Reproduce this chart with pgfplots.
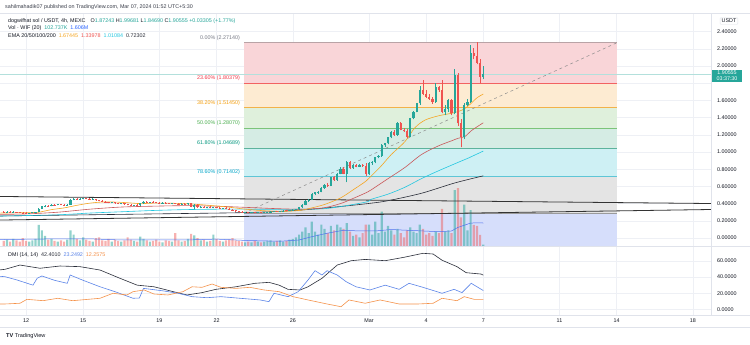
\documentclass[border=0pt]{standalone}
\usepackage{pgfplots}
\pgfplotsset{compat=1.18}
\usepackage{pgfplotstable}
\usepackage{fontspec}
\setmainfont{Liberation Sans}
\definecolor{upc}{HTML}{26A69A}
\definecolor{dnc}{HTML}{EF5350}
\definecolor{txtc}{HTML}{131722}
\definecolor{hdrc}{HTML}{3A3E4A}
\definecolor{gridc}{HTML}{EEF0F5}
\definecolor{bordc}{HTML}{E0E3EB}
\definecolor{fibA}{HTML}{F9D5D8}
\definecolor{fibB}{HTML}{FDEBD2}
\definecolor{fibC}{HTML}{DFF0DC}
\definecolor{fibD}{HTML}{D5ECE4}
\definecolor{fibE}{HTML}{CEF0F4}
\definecolor{fibF}{HTML}{E4E4E4}
\definecolor{fibG}{HTML}{D6DEFB}
\definecolor{lnA}{HTML}{B9A3A6}
\definecolor{lnB}{HTML}{F26262}
\definecolor{lnC}{HTML}{F2B24A}
\definecolor{lnD}{HTML}{7CC47A}
\definecolor{lnE}{HTML}{5DB39C}
\definecolor{lnF}{HTML}{5EC6D6}
\definecolor{lnG}{HTML}{9A9A9A}
\definecolor{labA}{HTML}{787B86}
\definecolor{labB}{HTML}{F23645}
\definecolor{labC}{HTML}{F59E0B}
\definecolor{labD}{HTML}{4CAF50}
\definecolor{labE}{HTML}{089981}
\definecolor{labF}{HTML}{00A5C8}
\definecolor{emaA}{HTML}{F5A623}
\definecolor{emaB}{HTML}{C8585A}
\definecolor{emaC}{HTML}{22C7E0}
\definecolor{emaD}{HTML}{2A2E39}
\definecolor{volma}{HTML}{4F72EE}
\definecolor{volt}{HTML}{2962FF}
\definecolor{adxc}{HTML}{2A2E39}
\definecolor{pdic}{HTML}{5B84E8}
\definecolor{mdic}{HTML}{F5924A}
\newcommand{\tvf}{\fontsize{5.4}{6.2}\selectfont}

\pgfplotstableread{
i o h l c v
-7 0.305 0.312 0.298 0.300 0.35
-6 0.300 0.310 0.296 0.306 0.45
-5 0.306 0.312 0.300 0.302 0.30
-4 0.302 0.309 0.297 0.304 0.50
-3 0.304 0.308 0.294 0.297 0.40
-2 0.297 0.303 0.290 0.293 0.30
-1 0.293 0.300 0.287 0.290 0.55
0 0.290 0.297 0.284 0.287 0.35
1 0.287 0.296 0.283 0.293 0.30
2 0.293 0.300 0.288 0.296 0.40
3 0.296 0.304 0.292 0.301 0.50
4 0.301 0.345 0.299 0.340 1.47
5 0.340 0.372 0.335 0.368 1.10
6 0.368 0.385 0.360 0.376 0.70
7 0.376 0.388 0.368 0.372 0.45
8 0.372 0.392 0.369 0.388 0.50
9 0.388 0.396 0.380 0.384 0.35
10 0.384 0.397 0.378 0.392 0.30
11 0.392 0.398 0.382 0.386 0.40
12 0.386 0.392 0.376 0.380 0.30
13 0.380 0.390 0.374 0.388 0.45
14 0.388 0.450 0.385 0.445 1.10
15 0.445 0.462 0.438 0.455 0.80
16 0.455 0.466 0.446 0.452 0.50
17 0.452 0.460 0.444 0.456 0.40
18 0.456 0.468 0.450 0.462 0.60
19 0.462 0.470 0.452 0.456 0.45
20 0.456 0.462 0.446 0.450 0.35
21 0.450 0.460 0.444 0.455 0.30
22 0.455 0.458 0.436 0.440 0.55
23 0.440 0.446 0.425 0.430 0.60
24 0.430 0.438 0.418 0.422 0.40
25 0.422 0.430 0.412 0.418 0.35
26 0.418 0.424 0.404 0.410 0.50
27 0.410 0.418 0.402 0.414 0.30
28 0.414 0.420 0.400 0.404 0.45
29 0.404 0.410 0.394 0.398 0.35
30 0.398 0.406 0.390 0.402 0.30
31 0.402 0.408 0.388 0.392 0.40
32 0.392 0.398 0.380 0.386 0.60
33 0.386 0.392 0.374 0.380 0.45
34 0.380 0.388 0.372 0.384 0.35
35 0.384 0.390 0.374 0.378 0.30
36 0.378 0.410 0.376 0.405 0.65
37 0.405 0.428 0.400 0.422 0.50
38 0.422 0.430 0.410 0.416 0.40
39 0.416 0.424 0.408 0.420 0.30
40 0.420 0.426 0.410 0.414 0.35
41 0.414 0.420 0.404 0.410 0.45
42 0.410 0.418 0.402 0.406 0.30
43 0.406 0.414 0.398 0.410 0.25
44 0.410 0.416 0.400 0.404 0.40
45 0.404 0.412 0.396 0.400 0.35
46 0.400 0.408 0.392 0.404 0.30
47 0.404 0.410 0.394 0.398 0.90
48 0.398 0.406 0.390 0.394 0.40
49 0.394 0.402 0.386 0.398 0.30
50 0.398 0.404 0.388 0.392 0.35
51 0.392 0.410 0.388 0.404 0.50
52 0.404 0.412 0.360 0.366 0.85
53 0.366 0.398 0.340 0.388 0.75
54 0.388 0.396 0.350 0.356 0.55
55 0.356 0.372 0.344 0.366 0.40
56 0.366 0.374 0.350 0.354 0.45
57 0.354 0.366 0.346 0.360 0.30
58 0.360 0.368 0.348 0.352 0.35
59 0.352 0.362 0.344 0.356 0.80
60 0.356 0.364 0.346 0.350 0.50
61 0.350 0.358 0.340 0.344 0.35
62 0.344 0.354 0.336 0.348 0.30
63 0.348 0.356 0.334 0.338 0.40
64 0.338 0.346 0.326 0.330 0.45
65 0.330 0.338 0.316 0.320 0.55
66 0.320 0.328 0.306 0.310 0.40
67 0.310 0.318 0.298 0.302 0.35
68 0.302 0.310 0.292 0.296 0.30
69 0.296 0.304 0.288 0.300 0.25
70 0.300 0.306 0.290 0.294 0.30
71 0.294 0.302 0.288 0.298 0.25
72 0.298 0.304 0.290 0.292 0.35
73 0.292 0.300 0.286 0.296 0.30
74 0.296 0.302 0.288 0.292 0.25
75 0.292 0.300 0.286 0.297 0.30
76 0.297 0.306 0.292 0.302 0.35
77 0.302 0.310 0.296 0.306 0.40
78 0.306 0.316 0.300 0.312 0.30
79 0.312 0.318 0.304 0.308 0.35
80 0.308 0.318 0.302 0.314 0.40
81 0.314 0.322 0.308 0.318 0.30
82 0.318 0.326 0.310 0.316 0.35
83 0.316 0.328 0.312 0.324 0.45
84 0.324 0.334 0.318 0.330 0.50
85 0.330 0.340 0.322 0.336 0.60
86 0.336 0.362 0.330 0.358 0.80
87 0.358 0.392 0.352 0.388 1.00
88 0.388 0.442 0.380 0.436 1.30
89 0.436 0.452 0.424 0.446 0.90
90 0.446 0.520 0.440 0.512 1.70
91 0.512 0.540 0.500 0.530 1.00
92 0.530 0.548 0.512 0.538 0.80
93 0.538 0.590 0.530 0.580 1.50
94 0.580 0.625 0.572 0.615 1.20
95 0.615 0.640 0.598 0.608 0.90
96 0.608 0.715 0.602 0.705 1.40
97 0.705 0.725 0.665 0.672 1.10
98 0.672 0.760 0.668 0.750 1.50
99 0.750 0.820 0.740 0.808 1.30
100 0.808 0.830 0.742 0.750 1.20
101 0.750 0.890 0.650 0.885 1.60
102 0.885 0.895 0.800 0.812 1.00
103 0.812 0.860 0.806 0.850 0.70
104 0.850 0.862 0.822 0.830 0.80
105 0.830 0.858 0.824 0.848 0.60
106 0.848 0.860 0.826 0.834 0.90
107 0.834 0.870 0.720 0.745 1.50
108 0.745 0.880 0.735 0.870 1.50
109 0.870 0.890 0.850 0.880 0.80
110 0.880 0.945 0.870 0.940 1.70
111 0.940 0.965 0.925 0.950 0.90
112 0.950 1.095 0.945 1.081 2.40
113 1.081 1.110 1.060 1.100 1.00
114 1.100 1.180 1.090 1.170 1.40
115 1.170 1.245 1.160 1.236 1.10
116 1.236 1.260 1.190 1.198 0.80
117 1.198 1.345 1.190 1.334 1.20
118 1.334 1.350 1.250 1.256 0.90
119 1.256 1.280 1.230 1.240 0.60
120 1.240 1.262 1.165 1.178 1.10
121 1.178 1.400 1.170 1.390 1.30
122 1.390 1.480 1.380 1.470 1.00
123 1.470 1.575 1.460 1.566 0.90
124 1.566 1.770 1.550 1.720 1.50
125 1.720 1.840 1.660 1.680 1.20
126 1.680 1.720 1.630 1.645 0.80
127 1.645 1.680 1.610 1.620 0.90
128 1.620 1.640 1.560 1.585 0.70
129 1.585 1.800 1.570 1.750 1.00
130 1.750 1.770 1.700 1.720 0.90
131 1.720 1.840 1.450 1.469 2.60
132 1.469 1.550 1.430 1.500 1.00
133 1.500 1.620 1.470 1.600 1.10
134 1.600 1.620 1.430 1.450 0.90
135 1.450 1.960 1.440 1.895 3.90
136 1.895 1.920 1.300 1.334 4.05
137 1.334 1.380 1.055 1.178 2.00
138 1.178 1.570 1.150 1.547 2.90
139 1.547 1.620 1.530 1.585 1.10
140 1.585 2.244 1.570 2.148 2.50
141 2.148 2.210 2.080 2.120 1.47
142 2.120 2.280 2.020 2.040 1.40
143 2.040 2.080 1.800 1.872 0.77
144 1.87243 1.99681 1.84690 1.90555 0.103
}\candles

\pgfplotsset{
  pane/.style={at={(0bp,97.3bp)}, anchor=south west, scale only axis,
    width=711bp, height=233.7bp, xmin=-8.19, xmax=215.7},
  up/.style={restrict expr to domain={\thisrow{c}-\thisrow{o}}{0:10}},
  dn/.style={restrict expr to domain={\thisrow{c}-\thisrow{o}}{-10:-0.00001}},
  nomark/.style={only marks, mark=*, mark size=0pt, mark options={draw=none, fill=none}},
}

\begin{document}
\begin{tikzpicture}[x=1bp,y=1bp]
\useasboundingbox (0,0) rectangle (750,344);
\fill[white] (0,0) rectangle (750,344);

% ---------- price pane: grid, fib ----------
\begin{axis}[pane, ymin=-0.101, ymax=2.616,
  axis line style={draw=none},
  xtick={0,18,42,60,84,108,126,144,168,186,210}, xticklabels={},
  ytick={0,0.2,0.4,0.6,0.8,1,1.2,1.4,1.6,1.8,2,2.2,2.4},
  yticklabels={0.00000,0.20000,0.40000,0.60000,0.80000,1.00000,1.20000,1.40000,1.60000,,2.00000,2.20000,2.40000},
  yticklabel pos=right, major tick length=0pt,
  /pgf/number format/assume math mode=true,
  yticklabel style={font=\tvf, text=txtc, anchor=west, inner sep=0pt, xshift=6bp},
  grid=major, major grid style={draw=gridc, line width=0.5bp}]
\addplot[fill=fibA, draw=none, forget plot] coordinates {(68.66,2.2714) (186.14,2.2714) (186.14,1.80379) (68.66,1.80379)};
\addplot[fill=fibB, draw=none, forget plot] coordinates {(68.66,1.80379) (186.14,1.80379) (186.14,1.5145) (68.66,1.5145)};
\addplot[fill=fibC, draw=none, forget plot] coordinates {(68.66,1.5145) (186.14,1.5145) (186.14,1.2807) (68.66,1.2807)};
\addplot[fill=fibD, draw=none, forget plot] coordinates {(68.66,1.2807) (186.14,1.2807) (186.14,1.04689) (68.66,1.04689)};
\addplot[fill=fibE, draw=none, forget plot] coordinates {(68.66,1.04689) (186.14,1.04689) (186.14,0.71402) (68.66,0.71402)};
\addplot[fill=fibF, draw=none, forget plot] coordinates {(68.66,0.71402) (186.14,0.71402) (186.14,0.29) (68.66,0.29)};
\addplot[fill=fibG, draw=none, forget plot] coordinates {(68.66,0.29) (186.14,0.29) (186.14,-0.93457) (68.66,-0.93457)};
\addplot[lnA, line width=0.6bp] coordinates {(68.66,2.2714) (186.14,2.2714)};
\addplot[lnB, line width=0.6bp] coordinates {(68.66,1.80379) (186.14,1.80379)};
\addplot[lnC, line width=0.6bp] coordinates {(68.66,1.5145) (186.14,1.5145)};
\addplot[lnD, line width=0.6bp] coordinates {(68.66,1.2807) (186.14,1.2807)};
\addplot[lnE, line width=0.6bp] coordinates {(68.66,1.04689) (186.14,1.04689)};
\addplot[lnF, line width=0.6bp] coordinates {(68.66,0.71402) (186.14,0.71402)};
\addplot[lnG, line width=0.6bp] coordinates {(68.66,0.29) (186.14,0.29)};
\node[anchor=east, inner sep=0pt, text=labA, font=\tvf] at (axis cs:67.4,2.329) {0.00\% (2.27140)};
\node[anchor=east, inner sep=0pt, text=labB, font=\tvf] at (axis cs:67.4,1.862) {23.60\% (1.80379)};
\node[anchor=east, inner sep=0pt, text=labC, font=\tvf] at (axis cs:67.4,1.573) {38.20\% (1.51450)};
\node[anchor=east, inner sep=0pt, text=labD, font=\tvf] at (axis cs:67.4,1.339) {50.00\% (1.28070)};
\node[anchor=east, inner sep=0pt, text=labE, font=\tvf] at (axis cs:67.4,1.105) {61.80\% (1.04689)};
\node[anchor=east, inner sep=0pt, text=labF, font=\tvf] at (axis cs:67.4,0.772) {78.60\% (0.71402)};
\end{axis}

% ---------- volume ----------
\begin{axis}[pane, ymin=-0.05, ymax=16.29, hide axis]
\addplot[ybar, bar width=2.2bp, fill=upc, fill opacity=0.5, draw=none, up] table[x=i, y=v] {\candles};
\addplot[ybar, bar width=2.2bp, fill=dnc, fill opacity=0.45, draw=none, dn] table[x=i, y=v] {\candles};
\addplot[volma, line width=0.5bp] coordinates {(-8.2,0.45) (10,0.5) (20,0.5) (30,0.42) (40,0.42) (50,0.42) (60,0.48) (70,0.38) (80,0.33) (86,0.42) (90,0.65) (95,0.9) (100,1.1) (105,1.05) (110,1.05) (115,1.15) (120,1.1) (125,1.05) (130,1.0) (134,1.05) (136,1.3) (138,1.45) (140,1.6) (142,1.62) (144,1.606)};
\end{axis}

% ---------- price: lines and candles ----------
\begin{axis}[pane, ymin=-0.101, ymax=2.616, hide axis]
\addplot[black!80, line width=0.8bp] coordinates {(-8.19,0.483) (215.7,0.401)};
\addplot[black!80, line width=0.8bp] coordinates {(-8.19,0.209) (215.7,0.3315)};
\addplot[black!45, dashed, line width=0.5bp] coordinates {(68.66,0.29) (186.14,2.2714)};
\addplot[upc!35, line width=0.4bp] coordinates {(-8.19,1.90555) (215.7,1.90555)};
\addplot[emaD, line width=0.6bp, smooth] coordinates {(-8.2,0.256) (10,0.265) (30,0.275) (50,0.285) (67,0.294) (80,0.31) (90,0.335) (100,0.37) (108.7,0.405) (114,0.434) (124.5,0.52) (135,0.64) (144,0.723)};
\addplot[emaC, line width=0.6bp, smooth] coordinates {(-8.2,0.255) (10,0.27) (20,0.29) (30,0.305) (40,0.32) (50,0.33) (60,0.335) (70,0.335) (80,0.333) (87,0.335) (93.6,0.34) (99,0.365) (107.3,0.42) (108.7,0.45) (114,0.51) (119.3,0.59) (124.5,0.69) (129.8,0.78) (136.1,0.88) (139.3,0.93) (144,1.011)};
\addplot[emaB, line width=0.6bp, smooth] coordinates {(-8.2,0.275) (0,0.28) (10,0.30) (20,0.335) (30,0.36) (40,0.37) (50,0.376) (60,0.37) (70,0.355) (80,0.34) (87,0.335) (93.6,0.35) (99,0.40) (103,0.46) (107.3,0.53) (108.7,0.56) (114,0.69) (119.3,0.82) (124.5,0.97) (129.8,1.07) (134,1.13) (136.1,1.16) (138.2,1.18) (140.3,1.25) (144,1.34)};
\addplot[emaA, line width=0.6bp, smooth] coordinates {(-8.2,0.29) (0,0.295) (4,0.30) (8,0.33) (12,0.35) (16,0.38) (20,0.405) (24,0.418) (28,0.418) (32,0.41) (36,0.40) (40,0.405) (44,0.406) (48,0.402) (52,0.396) (56,0.385) (60,0.372) (64,0.358) (68,0.34) (72,0.325) (76,0.315) (80,0.31) (84,0.315) (87,0.325) (90,0.35) (94,0.39) (99,0.465) (103,0.56) (107,0.66) (108.7,0.72) (111.9,0.84) (115,0.97) (119.3,1.12) (122.4,1.28) (125.6,1.37) (129.8,1.42) (134,1.45) (136,1.47) (138,1.50) (140,1.56) (142,1.63) (144,1.674)};
% wicks
\addplot[nomark, up, error bars/.cd, y dir=plus, y explicit, error mark=none, error bar style={draw=upc, line width=0.6bp}] table[x=i, y=l, y error expr=\thisrow{h}-\thisrow{l}] {\candles};
\addplot[nomark, dn, error bars/.cd, y dir=plus, y explicit, error mark=none, error bar style={draw=dnc, line width=0.6bp}] table[x=i, y=l, y error expr=\thisrow{h}-\thisrow{l}] {\candles};
% bodies
\addplot[nomark, up, error bars/.cd, y dir=plus, y explicit, error mark=none, error bar style={draw=upc, line width=2.2bp}] table[x=i, y=o, y error expr={max(\thisrow{c}-\thisrow{o},0.005)}] {\candles};
\addplot[nomark, dn, error bars/.cd, y dir=plus, y explicit, error mark=none, error bar style={draw=dnc, line width=2.2bp}] table[x=i, y=c, y error expr={max(\thisrow{o}-\thisrow{c},0.005)}] {\candles};
\end{axis}

% ---------- DMI pane ----------
\begin{axis}[at={(0bp,29bp)}, anchor=south west, scale only axis,
  width=711bp, height=68.3bp, xmin=-8.19, xmax=215.7, ymin=-7.1, ymax=77.8,
  axis line style={draw=none},
  xtick={0,18,42,60,84,108,126,144,168,186,210},
  xticklabels={12,15,19,22,26,Mar,4,7,11,14,18},
  ytick={0,20,40,60}, yticklabels={0.0000,20.0000,40.0000,60.0000},
  yticklabel pos=right, major tick length=0pt,
  /pgf/number format/assume math mode=true,
  yticklabel style={font=\tvf, text=txtc, anchor=west, inner sep=0pt, xshift=6bp},
  xticklabel style={font=\tvf, text=txtc},
  grid=major, major grid style={draw=gridc, line width=0.5bp}]
\addplot[adxc, line width=0.6bp] coordinates {(-8.2,49) (-6.6,49.7) (-1.9,55) (4.4,51) (10.7,53.8) (17,53) (23.3,48.8) (29.6,38.5) (35,30) (40.3,28) (46.3,22) (50.7,17.8) (55.4,20.7) (59.8,24.8) (66.1,28) (72.1,32.3) (76.5,33.5) (79.7,30) (82.5,24.8) (86.3,24) (88.8,28) (93.2,38.5) (98,55) (102.4,60.4) (106.8,62) (113.1,60.4) (119,64.6) (125,69.6) (128.2,68.7) (131,61) (135.7,53) (138.6,45.5) (143.3,43.8) (144,42.4)};
\addplot[pdic, line width=0.6bp] coordinates {(-8.2,41) (-6.6,40.5) (-2.8,36.4) (2.2,30) (3.5,38.5) (5,41.4) (9,36) (13,32.3) (13.9,42.6) (18,36) (23.3,28) (28,21.9) (33.7,13.7) (35.7,14) (37,26) (43,23) (47.9,19.9) (52.3,15.7) (57,14.4) (61.4,15.7) (67.4,13.7) (73.7,11.6) (76.5,9.5) (78.1,19.9) (82.5,15.7) (85.7,21.9) (88.8,36.4) (91,48) (93.2,42.6) (94.8,48) (98,42.6) (100.8,34.3) (103.9,28) (108.3,24) (113.1,30) (117.5,24.8) (120.6,32.3) (125,27.3) (129.4,21.9) (131,19.9) (134.8,24.8) (137.3,20.7) (140.2,32.3) (144,23.25)};
\addplot[mdic, line width=0.6bp] coordinates {(-8.2,6.6) (-6.6,6.6) (-1.9,7.5) (0.3,12.4) (5.4,10.7) (10,13.7) (14.7,10.7) (19.6,12.4) (23.3,13.7) (27.4,19.9) (31.8,17.8) (33.7,21.9) (37.2,24) (40.3,19) (44.7,17.8) (49.4,21.9) (52.3,28) (55.4,27.3) (58.6,31.4) (61.4,27.3) (66.1,26) (70.5,27.3) (75,24) (79.7,21.9) (84.1,15.7) (88.8,11.6) (94.8,6.6) (99.2,3.2) (101.7,11.6) (106.8,7.5) (111.5,11.6) (117.5,6.6) (123.5,6.6) (128.2,7.5) (131,13.7) (135.7,10.7) (138,15.7) (141.1,12.4) (144,12.26)};
\end{axis}

% ---------- frame ----------
\draw[bordc, line width=0.6bp] (0,331) -- (750,331);
\draw[bordc, line width=0.6bp] (0,97.3) -- (750,97.3);
\draw[bordc, line width=0.6bp] (0,29) -- (750,29);
\draw[bordc, line width=0.6bp] (0,17) -- (750,17);
\draw[bordc, line width=0.6bp] (711,29) -- (711,331);

% ---------- texts ----------
\node[anchor=west, inner sep=0pt, text=hdrc, font=\tvf] at (5,337.3) {sahilmahadik07 published on TradingView.com, Mar 07, 2024 01:52 UTC+5:30};
\node[anchor=west, inner sep=0pt, text=txtc, font=\tvf] at (8,323.3) {dogwifhat sol / USDT, 4h, MEXC\hspace{5bp}O\textcolor{upc}{1.87243} H\textcolor{upc}{1.99681} L\textcolor{upc}{1.84690} C\textcolor{upc}{1.90555} \textcolor{upc}{+0.03305 (+1.77\%)}};
\node[anchor=west, inner sep=0pt, text=txtc, font=\tvf] at (8,315.7) {Vol · WIF (20)\hspace{3bp}\textcolor{upc}{102.737K}\hspace{3bp}\textcolor{volt}{1.606M}};
\node[anchor=west, inner sep=0pt, text=txtc, font=\tvf] at (8,308.3) {EMA 20/50/100/200\hspace{3bp}\textcolor{emaA}{1.67445}\hspace{3bp}\textcolor{dnc}{1.33978}\hspace{3bp}\textcolor{emaC}{1.01084}\hspace{3bp}\textcolor{emaD}{0.72302}};
\node[anchor=west, inner sep=0pt, text=txtc, font=\tvf] at (8,89.3) {DMI (14, 14)\hspace{3bp}\textcolor{adxc}{42.4010}\hspace{3bp}\textcolor{pdic}{23.2492}\hspace{3bp}\textcolor{mdic}{12.2575}};
\node[draw=bordc, fill=white, text=txtc, font=\tvf, inner sep=1.6bp, rounded corners=1bp] at (729,323) {USDT};
\node[fill=upc, text=white, font=\tvf, align=center, inner sep=1bp, minimum width=30bp] at (727,268) {1.90555\\03:37:30};
\node[anchor=west, inner sep=0pt, text=txtc, font=\fontsize{5.6}{6.4}\selectfont] at (6,8) {\textbf{TV}\hspace{1.5bp}TradingView};
\end{tikzpicture}
\end{document}
